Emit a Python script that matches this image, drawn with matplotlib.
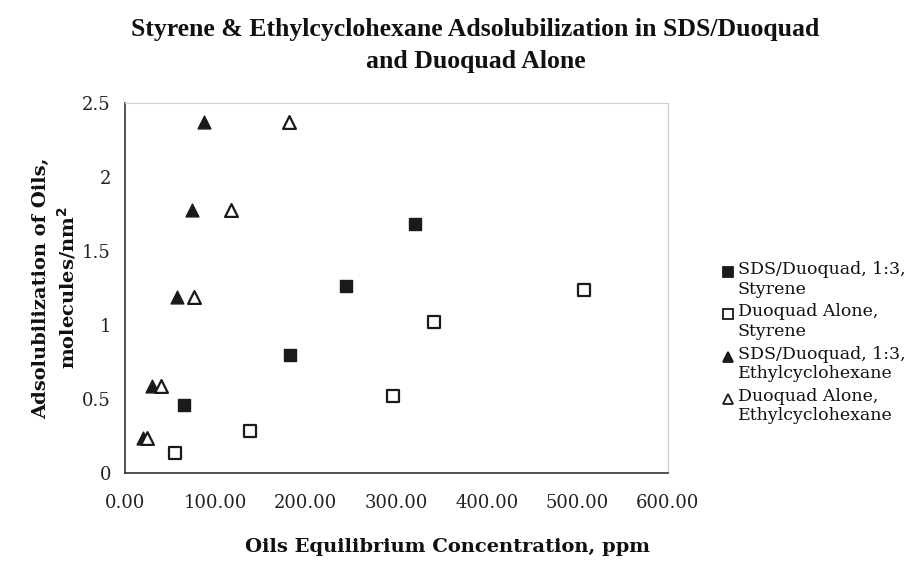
import matplotlib.pyplot as plt
from matplotlib.lines import Line2D

plt.rcParams['font.family'] = ['DejaVu Serif']

# SDS/Duoquad 1:3, Styrene
sds_sty_x = [65, 183, 244, 321]
sds_sty_y = [0.46, 0.80, 1.265, 1.68]

# Duoquad Alone, Styrene
dq_sty_x = [55, 138, 296, 342, 507]
dq_sty_y = [0.135, 0.285, 0.52, 1.02, 1.24]

# SDS/Duoquad 1:3, Ethylcyclohexane
sds_ech_x = [20, 30, 58, 74.5, 87]
sds_ech_y = [0.235, 0.59, 1.19, 1.78, 2.37]

# Duoquad Alone, Ethylcyclohexane
dq_ech_x = [25, 40.5, 76.5, 117, 181.5]
dq_ech_y = [0.235, 0.59, 1.19, 1.78, 2.37]

series_labels = ['SDS/Duoquad, 1:3,\nStyrene', 'Duoquad Alone,\nStyrene',
                 'SDS/Duoquad, 1:3,\nEthylcyclohexane', 'Duoquad Alone,\nEthylcyclohexane']

x_ticks = [0, 100, 200, 300, 400, 500, 600]
y_ticks = [0, 0.5, 1, 1.5, 2, 2.5]

fig = plt.figure(figsize=(9.11, 5.66), dpi=100)
ax = fig.add_axes([0.137, 0.164, 0.596, 0.654])

dark = '#1a1a1a'
styles = [
    dict(marker='s', s=70, facecolors=dark, edgecolors=dark, linewidths=1.0),
    dict(marker='s', s=70, facecolors='white', edgecolors=dark, linewidths=1.6),
    dict(marker='^', s=85, facecolors=dark, edgecolors=dark, linewidths=1.0),
    dict(marker='^', s=85, facecolors='white', edgecolors=dark, linewidths=1.6),
]
xs = [sds_sty_x, dq_sty_x, sds_ech_x, dq_ech_x]
ys = [sds_sty_y, dq_sty_y, sds_ech_y, dq_ech_y]
for i in range(4):
    ax.scatter(xs[i], ys[i], zorder=3 + i, **styles[i])

ax.set_xlim(0, 600)
ax.set_ylim(0, 2.5)
ax.set_xticks(x_ticks)
ax.set_xticklabels(['%.2f' % v for v in x_ticks])
ax.set_yticks(y_ticks)
ax.set_yticklabels(['0', '0.5', '1', '1.5', '2', '2.5'])
ax.tick_params(length=0, labelsize=13, colors='#222222')
ax.tick_params(axis='x', pad=15)
ax.tick_params(axis='y', pad=10)

for side in ['left', 'bottom']:
    ax.spines[side].set_color('#333333')
    ax.spines[side].set_linewidth(1.2)
for side in ['top', 'right']:
    ax.spines[side].set_color('#cccccc')
    ax.spines[side].set_linewidth(0.8)

fig.text(0.522, 0.968,
         'Styrene & Ethylcyclohexane Adsolubilization in SDS/Duoquad\nand Duoquad Alone',
         ha='center', va='top', fontsize=18.5, fontweight='bold', linespacing=1.5,
         family='Liberation Serif', color='#111111')

ax.set_xlabel('Oils Equilibrium Concentration, ppm', fontsize=14, fontweight='bold',
              color='#111111')
ax.xaxis.set_label_coords(0.595, -0.175)
ax.set_ylabel('Adsolubilization of Oils,\nmolecules/nm$^{\\mathbf{2}}$', fontsize=14,
              fontweight='bold', linespacing=1.3, color='#111111')
ax.yaxis.set_label_coords(-0.085, 0.5)

# legend: marker beside the first line of each two-line label
leg_marker = ['s', 's', '^', '^']
leg_face = [dark, 'white', dark, 'white']
for i, lab in enumerate(series_labels):
    y_first = 1 - (272 + 42.3 * i) / 566
    fig.add_artist(Line2D([0.799], [y_first], transform=fig.transFigure, marker=leg_marker[i],
                          markersize=7.5, markerfacecolor=leg_face[i], markeredgecolor=dark,
                          markeredgewidth=1.3, linestyle='none'))
    fig.text(0.810, y_first + 11 / 566, lab, ha='left', va='top', fontsize=12.5,
             linespacing=1.2, color='#111111')

fig.savefig('out.png', dpi=100)
